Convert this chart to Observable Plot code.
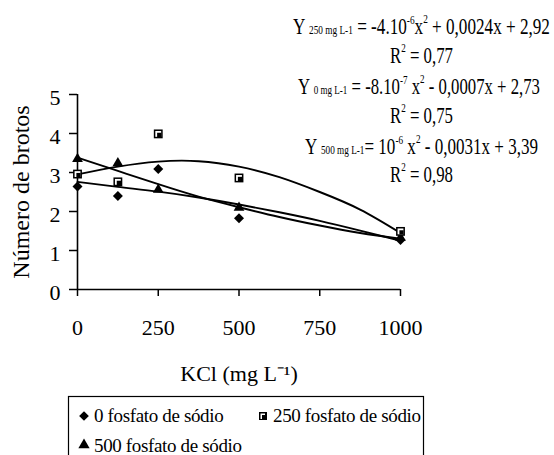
<!DOCTYPE html>
<html><head><meta charset="utf-8">
<script src="https://cdn.jsdelivr.net/npm/d3@7"></script>
<script src="https://cdn.jsdelivr.net/npm/@observablehq/plot@0.6"></script>
<style>
body{margin:0;background:#fff}
#wrap{position:relative;width:554px;height:455px;overflow:hidden;background:#fff}
#wrap text{font-family:"Liberation Serif",serif}
#legend{position:absolute;left:0;top:395px}
</style>
</head><body><div id="wrap"></div>
<script>
// ---- data ----
const kcl = [0, 125, 250, 500, 1000];
const fos0 = [2.64, 2.40, 3.09, 1.83, 1.27];
const fos250 = [2.96, 2.76, 3.99, 2.86, 1.49];
const fos500 = [3.35, 3.24, 2.56, 2.10, 1.33];
const fitX = [0, 125, 250, 375, 500, 625, 750, 875, 1000];
const fit0 = [2.76, 2.63, 2.51, 2.36, 2.18, 1.98, 1.76, 1.51, 1.25];
const fit250 = [2.95, 3.15, 3.28, 3.29, 3.15, 2.88, 2.50, 2.05, 1.45];
const fit500 = [3.38, 3.04, 2.70, 2.38, 2.11, 1.86, 1.64, 1.45, 1.30];
const seriesNames = ["0 fosfato de sódio", "250 fosfato de sódio", "500 fosfato de sódio"];
const xTicks = [0, 250, 500, 750, 1000];
const yTicks = [0, 1, 2, 3, 4, 5];
const xTitle = "KCl (mg L⁻¹)";
const yTitle = "Número de brotos";
const eqSubs = ["250 mg L-1", "0 mg L-1", "500 mg L-1"];
const eqCoefA = ["-4.10", "-8.10", "10"];
const eqExp = ["-6", "-7", "-6"];
const eqRest = [" + 0,0024x + 2,92", " - 0,0007x + 2,73", " - 0,0031x + 3,39"];
const r2Values = ["0,77", "0,75", "0,98"];

const points = [];
kcl.forEach((k, i) => {
  points.push({x: k, y: fos0[i], s: seriesNames[0]});
  points.push({x: k, y: fos250[i], s: seriesNames[1]});
  points.push({x: k, y: fos500[i], s: seriesNames[2]});
});
const fits = [];
fitX.forEach((k, i) => {
  fits.push({x: k, y: fit0[i], s: seriesNames[0]});
  fits.push({x: k, y: fit250[i], s: seriesNames[1]});
  fits.push({x: k, y: fit500[i], s: seriesNames[2]});
});
const p0 = points.filter(d => d.s === seriesNames[0]);
const p250 = points.filter(d => d.s === seriesNames[1]);
const p500 = points.filter(d => d.s === seriesNames[2]);

const FONT = "Liberation Serif, serif";

const svg = Plot.plot({
  width: 554, height: 395,
  marginLeft: 77, marginRight: 154, marginTop: 94, marginBottom: 106,
  x: {domain: [0, 1000]},
  y: {domain: [0, 5]},
  style: {fontFamily: FONT, color: "black", background: "white", overflow: "visible"},
  marks: [
    Plot.axisX({ticks: xTicks, tickSize: 7, tickPadding: 23, fontSize: 22, tickFormat: "d", label: null, strokeWidth: 1.5}),
    Plot.axisY({ticks: yTicks, tickSize: 8, text: null, label: null, strokeWidth: 1.5}),
    Plot.axisY({ticks: yTicks, tickSize: 0, tickPadding: 17, fontSize: 22, dy: 3, tickFormat: "d", label: null}),
    Plot.ruleX([0], {y1: 0, y2: 5, strokeWidth: 1.6}),
    Plot.ruleY([0], {x1: 0, x2: 1000, strokeWidth: 1.6}),
    Plot.line(fits, {x: "x", y: "y", z: "s", curve: "natural", stroke: "black", strokeWidth: 1.9}),
    Plot.dot(p0, {x: "x", y: "y", symbol: "diamond2", r: 4.5, fill: "black", stroke: "none"}),
    Plot.dot(p500, {x: "x", y: "y", symbol: "triangle", r: 4, fill: "black", stroke: "none"}),
    Plot.dot(p250, {x: "x", y: "y", symbol: "square", r: 5, fill: "black", stroke: "none"}),
    Plot.dot(p250, {x: "x", y: "y", symbol: "square", r: 3.3, fill: "white", stroke: "none"}),
    Plot.dot(p250, {x: "x", y: "y", symbol: "square", r: 2.4, fill: "black", stroke: "none", dx: 1, dy: 1}),
    Plot.text([xTitle], {frameAnchor: "bottom", dy: 91, fontSize: 22}),
    Plot.text([yTitle], {frameAnchor: "left", textAnchor: "middle", rotate: -90, dx: -56, fontSize: 24})
  ]
});
document.getElementById("wrap").appendChild(svg);

// equations annotation: each piece is its own text, then the group is condensed horizontally
const s = d3.select(svg);
function drawPieces(pieces, x, y, targetLen) {
  const g = s.append("g").attr("fill", "black");
  let cx = 0;
  pieces.forEach(p => {
    const t = g.append("text").attr("x", cx).attr("y", p.dy || 0)
      .attr("font-size", p.size).attr("text-anchor", "start").text(p.text);
    cx += t.node().getComputedTextLength();
  });
  const k = targetLen / cx;
  g.attr("transform", `translate(${x},${y}) scale(${k},1)`);
}
const eqPos = [{x: 293, y: 34, len: 257}, {x: 298, y: 94, len: 242}, {x: 305, y: 154, len: 233}];
const r2Pos = [63, 123, 182];
eqPos.forEach((p, i) => {
  drawPieces([
    {text: "Y ", size: 24},
    {text: eqSubs[i], size: 13},
    {text: (i === 2 ? "= " : " = ") + eqCoefA[i], size: 24},
    {text: eqExp[i], size: 13, dy: -10},
    {text: i === 0 ? "x" : " x", size: 24},
    {text: "2", size: 13, dy: -11},
    {text: eqRest[i], size: 24}
  ], p.x, p.y, p.len);
  drawPieces([
    {text: "R", size: 24},
    {text: "2", size: 13, dy: -11},
    {text: " = " + r2Values[i], size: 24}
  ], 390, r2Pos[i], 63);
});

// legend
const lg = d3.select("#wrap").append("svg").attr("id", "legend")
  .attr("width", 554).attr("height", 60);
lg.append("rect").attr("x", 68.5).attr("y", 1.5).attr("width", 355).attr("height", 100)
  .attr("fill", "white").attr("stroke", "black").attr("stroke-width", 1.2);
const legItems = [
  {sym: d3.symbolDiamond2, size: 60, x: 84, y: 21, tx: 94, ty: 27},
  {sym: d3.symbolSquare, size: 64, x: 263, y: 21, tx: 273, ty: 27, sq: true},
  {sym: d3.symbolTriangle, size: 55, x: 84, y: 50, tx: 94, ty: 57}
];
legItems.forEach((it, i) => {
  lg.append("path").attr("d", d3.symbol(it.sym, it.size)()).attr("transform", `translate(${it.x},${it.y})`).attr("fill", "black");
  if (it.sq) {
    lg.append("rect").attr("x", it.x - 2.5).attr("y", it.y - 2.5).attr("width", 4.5).attr("height", 5.5).attr("fill", "white");
    lg.append("rect").attr("x", it.x - 1).attr("y", it.y - 1).attr("width", 3.5).attr("height", 4.5).attr("fill", "black");
  }
  lg.append("text").attr("x", it.tx).attr("y", it.ty).attr("font-size", 19)
    .attr("letter-spacing", -0.35).attr("fill", "black").text(seriesNames[i]);
});
</script>
</body></html>
